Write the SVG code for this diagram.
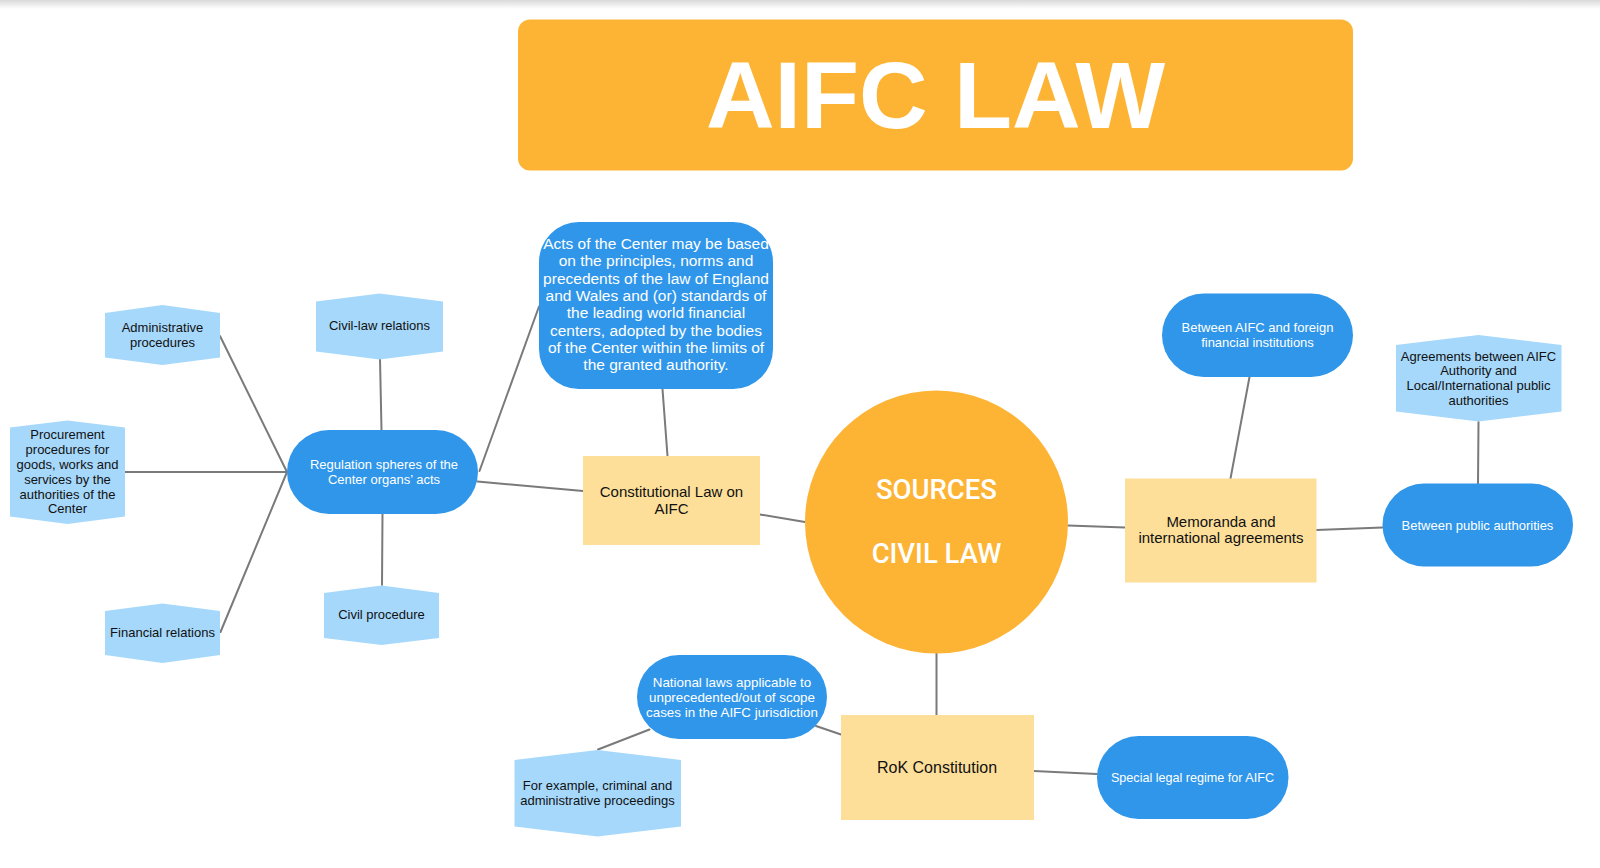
<svg xmlns="http://www.w3.org/2000/svg" width="1600" height="868" viewBox="0 0 1600 868">
<defs>
<linearGradient id="topShade" x1="0" y1="0" x2="0" y2="1">
<stop offset="0" stop-color="#d9d9d9"/>
<stop offset="1" stop-color="#ffffff"/>
</linearGradient>
</defs>
<style>
.orange{fill:#FDB434}
.blue{fill:#2F96EA}
.hex{fill:#A6D8FB}
.yellow{fill:#FDDF9A}
.conn{stroke:#7a7a7a;stroke-width:2;fill:none;stroke-linecap:round}
text{font-family:"Liberation Sans",Arial,sans-serif;text-anchor:middle}
.w{fill:#ffffff;font-size:13px}
.d{fill:#111111;font-size:13px}
.big{fill:#111111;font-size:15px}
.ctr{font-family:Roboto,"Liberation Sans",sans-serif;font-size:27.5px;font-weight:500;fill:#ffffff}
</style>
<rect x="0" y="0" width="1600" height="868" fill="#ffffff"/>
<rect x="0" y="0" width="1600" height="9" fill="url(#topShade)"/>

<g id="connectors">
<line class="conn" x1="220" y1="336" x2="287" y2="472"/>
<line class="conn" x1="125" y1="472" x2="287" y2="472"/>
<line class="conn" x1="220.5" y1="632" x2="287" y2="472"/>
<line class="conn" x1="380" y1="359" x2="381.5" y2="430"/>
<line class="conn" x1="382.5" y1="514" x2="382" y2="585"/>
<line class="conn" x1="479.5" y1="471" x2="539" y2="306.5"/>
<line class="conn" x1="477.5" y1="481.5" x2="583" y2="491"/>
<line class="conn" x1="662.5" y1="389" x2="667.5" y2="456"/>
<line class="conn" x1="760" y1="514.5" x2="805" y2="522"/>
<line class="conn" x1="1068" y1="525.5" x2="1125" y2="527.5"/>
<line class="conn" x1="1249.5" y1="377" x2="1230.5" y2="478.5"/>
<line class="conn" x1="1478.5" y1="422" x2="1478" y2="483.5"/>
<line class="conn" x1="1316.5" y1="530" x2="1382.5" y2="527.5"/>
<line class="conn" x1="936.5" y1="653.5" x2="936.5" y2="715"/>
<line class="conn" x1="816" y1="726" x2="841" y2="734.5"/>
<line class="conn" x1="649.5" y1="729.5" x2="598" y2="749.5"/>
<line class="conn" x1="1033.5" y1="771" x2="1097" y2="774"/>
</g>

<g id="title">
<rect class="orange" x="518" y="19.5" width="835" height="151" rx="12"/>
<text x="935.5" y="128" style="font-size:95px;font-weight:bold;fill:#ffffff">AIFC LAW</text>
</g>

<g id="center">
<circle class="orange" cx="936.5" cy="522" r="131.5"/>
<text class="ctr" x="936.5" y="499.3">SOURCES</text>
<text class="ctr" x="936.5" y="562.7">CIVIL LAW</text>
</g>

<g id="constitutional-law">
<rect class="yellow" x="583" y="456" width="177" height="89"/>
<text class="big" x="671.5" y="496.7">Constitutional Law on</text>
<text class="big" x="671.5" y="514">AIFC</text>
</g>

<g id="acts">
<rect class="blue" x="539" y="222" width="234" height="167" rx="40"/>
<text x="656" y="249" style="fill:#ffffff;font-size:15.5px">Acts of the Center may be based</text>
<text x="656" y="266.3" style="fill:#ffffff;font-size:15.5px">on the principles, norms and</text>
<text x="656" y="283.6" style="fill:#ffffff;font-size:15.5px">precedents of the law of England</text>
<text x="656" y="300.9" style="fill:#ffffff;font-size:15.5px">and Wales and (or) standards of</text>
<text x="656" y="318.2" style="fill:#ffffff;font-size:15.5px">the leading world financial</text>
<text x="656" y="335.5" style="fill:#ffffff;font-size:15.5px">centers, adopted by the bodies</text>
<text x="656" y="352.8" style="fill:#ffffff;font-size:15.5px">of the Center within the limits of</text>
<text x="656" y="370.1" style="fill:#ffffff;font-size:15.5px">the granted authority.</text>
</g>

<g id="regulation">
<rect class="blue" x="287" y="430" width="191" height="84" rx="42"/>
<text class="w" x="384" y="469">Regulation spheres of the</text>
<text class="w" x="384" y="483.7">Center organs’ acts</text>
</g>

<g id="administrative">
<path class="hex" d="M105,313 L162.5,305 L220,313 L220,357.5 L162.5,365 L105,357.5 Z"/>
<text class="d" x="162.5" y="332">Administrative</text>
<text class="d" x="162.5" y="347">procedures</text>
</g>

<g id="civil-law-relations">
<path class="hex" d="M316,301.5 L379.5,293.5 L443,301.5 L443,351.5 L379.5,359.5 L316,351.5 Z"/>
<text class="d" x="379.5" y="330">Civil-law relations</text>
</g>

<g id="procurement">
<path class="hex" d="M10,427.5 L67.5,420.5 L125,427.5 L125,516.5 L67.5,524 L10,516.5 Z"/>
<text class="d" x="67.5" y="439.3">Procurement</text>
<text class="d" x="67.5" y="454.1">procedures for</text>
<text class="d" x="67.5" y="468.9">goods, works and</text>
<text class="d" x="67.5" y="483.7">services by the</text>
<text class="d" x="67.5" y="498.5">authorities of the</text>
<text class="d" x="67.5" y="513.3">Center</text>
</g>

<g id="financial">
<path class="hex" d="M105,611 L162.5,603.5 L220,611 L220,655 L162.5,663 L105,655 Z"/>
<text class="d" x="162.5" y="637">Financial relations</text>
</g>

<g id="civil-procedure">
<path class="hex" d="M324,593 L381.5,585.5 L439,593 L439,638 L381.5,645 L324,638 Z"/>
<text class="d" x="381.5" y="619">Civil procedure</text>
</g>

<g id="memoranda">
<rect class="yellow" x="1125" y="478.5" width="191.5" height="104"/>
<text class="big" x="1221" y="527.4">Memoranda and</text>
<text class="big" x="1221" y="542.8">international agreements</text>
</g>

<g id="between-aifc-foreign">
<rect class="blue" x="1162" y="293.5" width="191" height="83.5" rx="41.75"/>
<text class="w" x="1257.5" y="332">Between AIFC and foreign</text>
<text class="w" x="1257.5" y="346.6">financial institutions</text>
</g>

<g id="agreements">
<path class="hex" d="M1396,345 L1478.5,335 L1561.5,345 L1561.5,411.5 L1478.5,421.5 L1396,411.5 Z"/>
<text class="d" x="1478.5" y="360.6">Agreements between AIFC</text>
<text class="d" x="1478.5" y="375.3">Authority and</text>
<text class="d" x="1478.5" y="390.2">Local/International public</text>
<text class="d" x="1478.5" y="404.9">authorities</text>
</g>

<g id="between-public">
<rect class="blue" x="1382.5" y="483.5" width="190.5" height="83" rx="41.5"/>
<text class="w" x="1477.5" y="529.5">Between public authorities</text>
</g>

<g id="rok-constitution">
<rect class="yellow" x="841" y="715" width="193" height="105"/>
<text x="937" y="773.4" style="fill:#111111;font-size:16px">RoK Constitution</text>
</g>

<g id="national-laws">
<rect class="blue" x="637" y="655" width="190" height="84" rx="42"/>
<text x="732" y="687.3" style="fill:#ffffff;font-size:13.4px">National laws applicable to</text>
<text x="732" y="702" style="fill:#ffffff;font-size:13.4px">unprecedented/out of scope</text>
<text x="732" y="716.5" style="fill:#ffffff;font-size:13.4px">cases in the AIFC jurisdiction</text>
</g>

<g id="example">
<path class="hex" d="M514.5,760 L597.5,750 L681,760 L681,826.5 L597.5,836.5 L514.5,826.5 Z"/>
<text class="d" x="597.5" y="790.3">For example, criminal and</text>
<text class="d" x="597.5" y="805">administrative proceedings</text>
</g>

<g id="special-regime">
<rect class="blue" x="1097" y="736" width="191.5" height="83" rx="41.5"/>
<text x="1192.5" y="782" style="fill:#ffffff;font-size:12.6px">Special legal regime for AIFC</text>
</g>
</svg>
